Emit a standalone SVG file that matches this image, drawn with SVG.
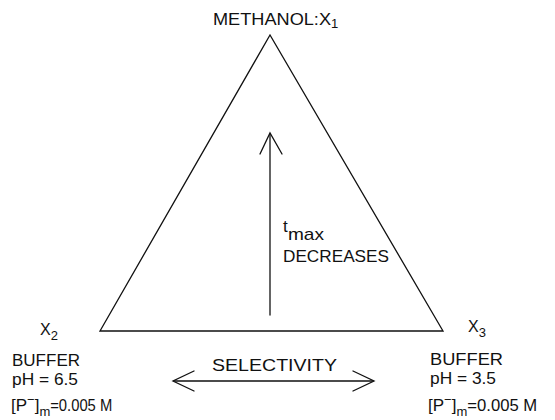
<svg xmlns="http://www.w3.org/2000/svg" width="555" height="420" viewBox="0 0 555 420">
<style>
.ln{fill:none;stroke:#111;stroke-width:1.3;stroke-linejoin:miter;stroke-linecap:round}
text{font-family:"Liberation Sans","DejaVu Sans",Arial,sans-serif;font-size:17px;fill:#111}
.sub{font-size:13px}
.var{font-size:16px}
</style>
<rect width="555" height="420" fill="#fff"/>
<g id="triangle">
<polygon class="ln" points="270,35 100,331 443,331"/>
</g>
<g id="connectors">
<line class="ln" x1="270" y1="315" x2="270" y2="134"/>
<polyline class="ln" points="260,154 270,133 282,154"/>
<line class="ln" x1="174" y1="381" x2="373" y2="381"/>
<polyline class="ln" points="194,371 173,381 194,391"/>
<polyline class="ln" points="353,371 374,381 353,391"/>
</g>
<g id="node-methanol">
<text x="213" y="25"><tspan textLength="118" lengthAdjust="spacingAndGlyphs">METHANOL:X</tspan><tspan class="sub" dy="3">1</tspan></text>
</g>
<g id="node-tmax">
<text x="283" y="232">t</text>
<text x="288" y="240" style="font-size:17px" textLength="36" lengthAdjust="spacingAndGlyphs">max</text>
<text x="283" y="262" textLength="106" lengthAdjust="spacingAndGlyphs">DECREASES</text>
</g>
<g id="node-x2">
<text class="var" x="40" y="335">X<tspan class="sub" dy="5">2</tspan></text>
<text x="12" y="366" textLength="68" lengthAdjust="spacingAndGlyphs">BUFFER</text>
<text x="12" y="385" textLength="66" lengthAdjust="spacingAndGlyphs">pH = 6.5</text>
<text x="11" y="411">[P<tspan class="sub" dy="-7">−</tspan><tspan dy="7">]</tspan><tspan class="sub" dy="5">m</tspan><tspan dy="-5" textLength="62" lengthAdjust="spacingAndGlyphs">=0.005 M</tspan></text>
</g>
<g id="node-x3">
<text class="var" x="468" y="332">X<tspan class="sub" dy="5">3</tspan></text>
<text x="430" y="365" textLength="73" lengthAdjust="spacingAndGlyphs">BUFFER</text>
<text x="430" y="384" textLength="66" lengthAdjust="spacingAndGlyphs">pH = 3.5</text>
<text x="428" y="411">[P<tspan class="sub" dy="-7">−</tspan><tspan dy="7">]</tspan><tspan class="sub" dy="5">m</tspan><tspan dy="-5" textLength="70" lengthAdjust="spacingAndGlyphs">=0.005 M</tspan></text>
</g>
<g id="label-selectivity">
<text x="212" y="371" textLength="125" lengthAdjust="spacingAndGlyphs">SELECTIVITY</text>
</g>
</svg>
